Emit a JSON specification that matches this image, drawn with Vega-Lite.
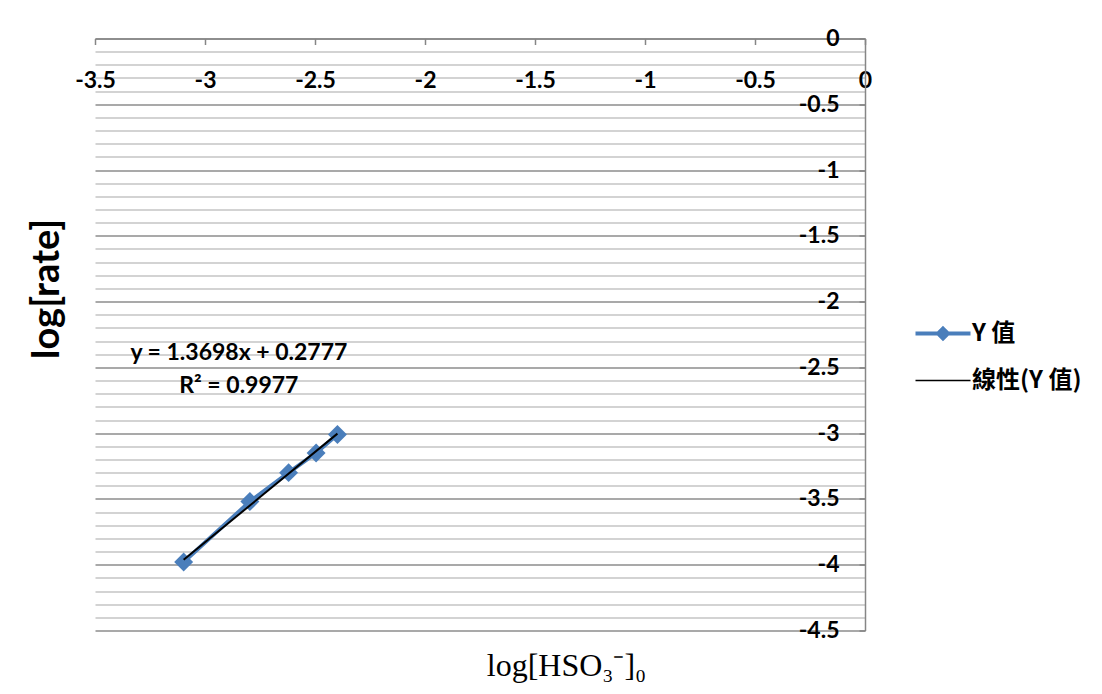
{
  "$schema": "https://vega.github.io/schema/vega-lite/v6.json",
  "width": 770,
  "height": 592,
  "autosize": {"type": "none"},
  "padding": {"left": 95, "top": 38.5, "right": 237, "bottom": 63.5},
  "background": "white",
  "config": {"view": {"stroke": null}, "font": "Lato"},
  "data": {
    "values": [
      {"x": -3.097, "y": -3.98},
      {"x": -2.796, "y": -3.52},
      {"x": -2.62, "y": -3.3},
      {"x": -2.495, "y": -3.15},
      {"x": -2.398, "y": -3.01}
    ]
  },
  "encoding": {
    "x": {
      "field": "x",
      "type": "quantitative",
      "scale": {"domain": [-3.5, 0], "nice": false, "zero": false},
      "axis": {
        "orient": "bottom",
        "offset": -592,
        "values": [-3.5, -3, -2.5, -2, -1.5, -1, -0.5, 0],
        "format": "~g",
        "grid": false,
        "domainColor": "#868686",
        "domainWidth": 1.5,
        "tickColor": "#868686",
        "tickSize": 6,
        "tickWidth": 1.5,
        "labelFont": "Lato",
        "labelFontWeight": "bold",
        "labelFontSize": 23,
        "labelColor": "black",
        "labelPadding": 36,
        "labelBaseline": "middle",
        "labelOverlap": false,
        "labelFlush": false,
        "labelBound": false,
        "labelExpr": "replace(datum.label, '\u2212', '-')",
        "title": "log[HSO₃⁻]₀",
        "titleFont": "Liberation Serif",
        "titleFontWeight": "normal",
        "titleFontSize": 32,
        "titleColor": "black",
        "titleX": 471,
        "titleY": 627,
        "titleBaseline": "middle",
        "titleAlign": "center"
      }
    }
  },
  "layer": [
    {
      "mark": {"type": "line", "strokeWidth": 4},
      "encoding": {
        "y": {
          "field": "y",
          "type": "quantitative",
          "scale": {"domain": [-4.5, 0], "nice": false, "zero": false},
          "axis": {
            "orient": "left",
            "offset": -770,
            "values": [-4.4, -4.3, -4.2, -4.1, -3.9, -3.8, -3.7, -3.6, -3.4, -3.3, -3.2, -3.1, -2.9, -2.8, -2.7, -2.6, -2.4, -2.3, -2.2, -2.1, -1.9, -1.8, -1.7, -1.6, -1.4, -1.3, -1.2, -1.1, -0.9, -0.8, -0.7, -0.6, -0.4, -0.3, -0.2, -0.1],
            "grid": true,
            "gridColor": "#c4c4c4",
            "gridWidth": 1.3,
            "labels": false,
            "ticks": false,
            "domain": false,
            "title": null
          }
        },
        "color": {
          "datum": "Y 值",
          "type": "nominal",
          "scale": {"domain": ["Y 值", "線性(Y 值)"], "range": ["#4A7EBB", "black"]},
          "legend": {
            "orient": "none",
            "legendX": 836,
            "legendY": 283,
            "title": null,
            "padding": 0,
            "symbolSize": 3025,
            "rowPadding": 22,
            "labelOffset": 17,
            "labelFont": "Noto Sans CJK TC",
            "labelFontWeight": "bold",
            "labelFontSize": 24,
            "labelColor": "black",
            "labelBaseline": "middle",
            "encode": {
              "symbols": {
                "update": {
                  "shape": {"signal": "datum.value === 'Y 值' ? 'M-1,0H1M0,-0.18L0.18,0L0,0.18L-0.18,0Z' : 'M-1,0H1'"},
                  "strokeWidth": {"signal": "datum.value === 'Y 值' ? 4 : 1.5"},
                  "stroke": {"signal": "datum.value === 'Y 值' ? '#4A7EBB' : 'black'"},
                  "fill": {"signal": "datum.value === 'Y 值' ? '#4A7EBB' : 'transparent'"},
                  "opacity": {"value": 1}
                }
              }
            }
          }
        }
      }
    },
    {
      "mark": {"type": "point", "shape": "diamond", "filled": true, "size": 360, "opacity": 1},
      "encoding": {
        "y": {
          "field": "y",
          "type": "quantitative",
          "axis": {
            "orient": "left",
            "offset": -770,
            "values": [-4.5, -4, -3.5, -3, -2.5, -2, -1.5, -1, -0.5, 0],
            "format": "~g",
            "grid": true,
            "gridColor": "#8c8c8c",
            "gridWidth": 1.3,
            "domainColor": "#868686",
            "domainWidth": 1.5,
            "tickColor": "#868686",
            "tickSize": 6,
            "tickWidth": 1.5,
            "labelFont": "Lato",
            "labelFontWeight": "bold",
            "labelFontSize": 23,
            "labelColor": "black",
            "labelPadding": 20,
            "labelBaseline": "middle",
            "labelOverlap": false,
            "labelFlush": false,
            "labelBound": false,
            "labelExpr": "replace(datum.label, '\u2212', '-')",
            "title": "log[rate]",
            "titleFont": "Lato",
            "titleFontWeight": "bold",
            "titleFontSize": 38,
            "titleColor": "black",
            "titleAngle": -90,
            "titleX": -818,
            "titleY": 250,
            "titleAlign": "center",
            "titleBaseline": "middle"
          }
        },
        "color": {"datum": "Y 值", "type": "nominal"}
      }
    },
    {
      "transform": [{"regression": "y", "on": "x"}],
      "mark": {"type": "line", "strokeWidth": 2},
      "encoding": {
        "y": {"field": "y", "type": "quantitative", "axis": null},
        "color": {"datum": "線性(Y 值)", "type": "nominal"}
      }
    },
    {
      "data": {
        "values": [
          {"label": "y = 1.3698x + 0.2777", "lx": -2.846, "ly": -2.393},
          {"label": "R² = 0.9977", "lx": -2.846, "ly": -2.645}
        ]
      },
      "mark": {"type": "text", "font": "Lato", "fontWeight": "bold", "fontSize": 23, "color": "black", "align": "center", "baseline": "middle"},
      "encoding": {
        "x": {"field": "lx", "type": "quantitative"},
        "y": {"field": "ly", "type": "quantitative", "axis": null},
        "text": {"field": "label"}
      }
    }
  ],
  "resolve": {"axis": {"y": "independent"}}
}
